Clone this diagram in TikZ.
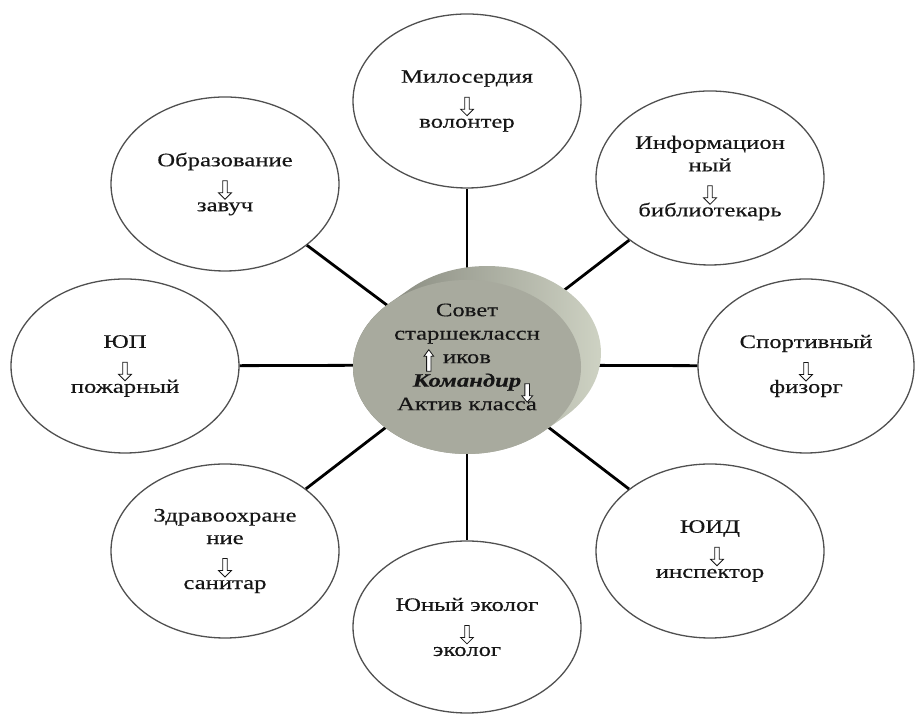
\documentclass[tikz,border=0pt]{standalone}
\usepackage{fontspec}
\setmainfont[FakeStretch=1.3,FakeBold=0.35]{Liberation Serif}
\usetikzlibrary{shapes.geometric}
\definecolor{inkc}{RGB}{22,22,22}
\definecolor{bubbleline}{RGB}{80,80,80}
\definecolor{facec}{RGB}{168,170,158}
\definecolor{sidel}{RGB}{122,124,114}
\definecolor{sider}{RGB}{210,214,199}
\newcommand{\dnarr}{\tikz[baseline=0pt]\draw[line width=0.8pt,draw=inkc,fill=white,line join=miter] (-2.3pt,8pt) -- (2.3pt,8pt) -- (2.3pt,-4pt) -- (6.5pt,-4pt) -- (0pt,-10.5pt) -- (-6.5pt,-4pt) -- (-2.3pt,-4pt) -- cycle;}
\newcommand{\uparrc}{\tikz[baseline=0pt]\draw[line width=0.8pt,draw=inkc,fill=white,line join=miter] (-2.2pt,-8pt) -- (2.2pt,-8pt) -- (2.2pt,7pt) -- (4.8pt,7pt) -- (0pt,13.5pt) -- (-4.8pt,7pt) -- (-2.2pt,7pt) -- cycle;}
\newcommand{\dnarrc}{\tikz[baseline=0pt]\draw[line width=0.8pt,draw=inkc,fill=white,line join=miter] (-2.3pt,3pt) -- (2.3pt,3pt) -- (2.3pt,-9pt) -- (5.5pt,-9pt) -- (0pt,-15.5pt) -- (-5.5pt,-9pt) -- (-2.3pt,-9pt) -- cycle;}
\begin{document}
\begin{tikzpicture}[x=1pt,y=1pt,
  bubble/.style={ellipse, draw=bubbleline, line width=1.3pt, fill=white,
    minimum width=228pt, minimum height=174pt, inner sep=0pt, align=center,
    text=inkc, font={\fontsize{19}{22.5}\selectfont\lineskiplimit=-50pt}},
  spoke/.style={line width=2.8pt, draw=black},
  ctext/.style={align=center, inner sep=0pt, text=inkc,
    font={\fontsize{19}{23.5}\selectfont\lineskiplimit=-50pt}}]
\useasboundingbox (0,0) rectangle (915,714);
\fill[white] (0,0) rectangle (915,714);

\node[bubble] (mil) at (467,613) {Милосердия\\\dnarr\\волонтер};
\node[bubble] (obr) at (225,530) {Образование\\\dnarr\\завуч};
\node[bubble] (inf) at (710,536) {Информацион\\ный\\\dnarr\\библиотекарь};
\node[bubble] (yup) at (125,348) {ЮП\\\dnarr\\пожарный};
\node[bubble, minimum width=216pt] (spo) at (806,348) {Спортивный\\\dnarr\\физорг};
\node[bubble] (zdr) at (225,163) {Здравоохране\\ние\\\dnarr\\санитар};
\node[bubble, minimum height=172pt] (eco) at (467,87) {Юный эколог\\\dnarr\\эколог};
\node[bubble] (yuid) at (710,163) {ЮИД\\\hspace{14pt}\dnarr\\инспектор};

\coordinate (hub) at (467,349);
\foreach \n in {mil,obr,inf,yup,spo,zdr,eco,yuid}
  \draw[spoke] (hub) -- (\n);

% side of the disc
\shade[left color=sidel, right color=sider]
  (409.9,425.1) arc[start angle=132.53, end angle=-47.47, x radius=114, y radius=87]
  -- ++(-20,-14)
  arc[start angle=-47.47, end angle=-227.47, x radius=114, y radius=87] -- cycle;
% front face of the disc
\fill[facec] (467,347) ellipse[x radius=114, y radius=87];

\node[ctext] (council) at (467,357)
  {Совет\\старшеклассн\\\llap{\uparrc\hspace{9pt}}иков\\\textbf{\textit{Командир}}\rlap{\dnarrc}\\Актив класса};
\end{tikzpicture}
\end{document}
